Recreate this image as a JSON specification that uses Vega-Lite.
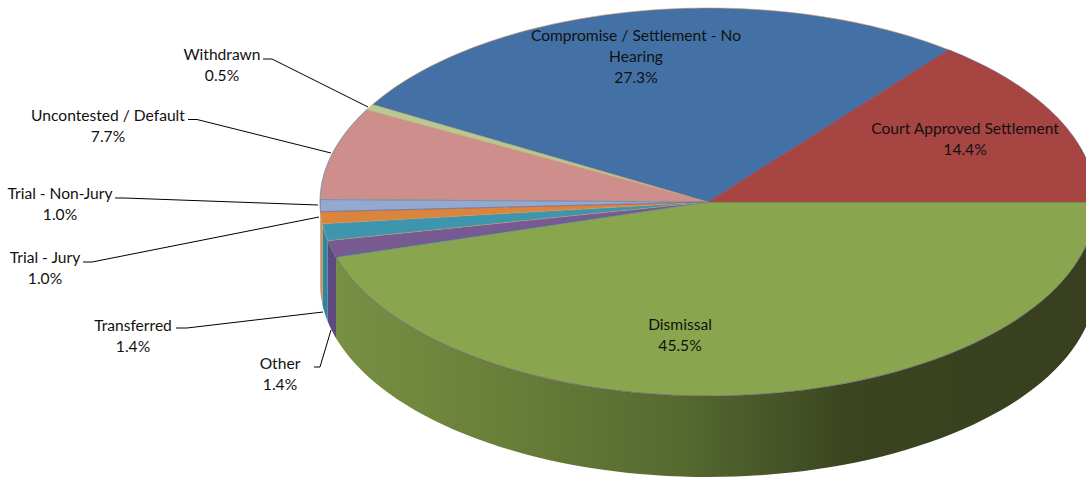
{
"$schema":"https://vega.github.io/schema/vega-lite/v6.json",
"width":1086,"height":478,"padding":0,"autosize":{"type":"none"},"background":"white",
"config":{"view":{"stroke":null}},
"datasets":{
"slices":[
{"ord":1,"name":"Dismissal","pct":45.5},
{"ord":2,"name":"Other","pct":1.4},
{"ord":3,"name":"Transferred","pct":1.4},
{"ord":4,"name":"Trial - Jury","pct":1.0},
{"ord":5,"name":"Trial - Non-Jury","pct":1.0},
{"ord":6,"name":"Uncontested / Default","pct":7.7},
{"ord":7,"name":"Withdrawn","pct":0.5},
{"ord":8,"name":"Compromise / Settlement - No Hearing","pct":27.3},
{"ord":9,"name":"Court Approved Settlement","pct":14.4}],
"labels":[
{"label":"Dismissal\n45.5%","lx":680,"ly":325},
{"label":"Other\n1.4%","lx":280,"ly":364},
{"label":"Transferred\n1.4%","lx":133,"ly":326},
{"label":"Trial - Jury\n1.0%","lx":45,"ly":258},
{"label":"Trial - Non-Jury\n1.0%","lx":60,"ly":194},
{"label":"Uncontested / Default\n7.7%","lx":108,"ly":116},
{"label":"Withdrawn\n0.5%","lx":222,"ly":55},
{"label":"Compromise / Settlement - No\nHearing\n27.3%","lx":636,"ly":36},
{"label":"Court Approved Settlement\n14.4%","lx":965,"ly":129}],
"leaders":[
{"name":"Withdrawn","seq":1,"px":263,"py":59},{"name":"Withdrawn","seq":2,"px":272,"py":59},{"name":"Withdrawn","seq":3,"px":368,"py":107},
{"name":"Uncontested","seq":1,"px":188,"py":119.5},{"name":"Uncontested","seq":2,"px":197,"py":119.5},{"name":"Uncontested","seq":3,"px":331,"py":153},
{"name":"NonJury","seq":1,"px":115,"py":198},{"name":"NonJury","seq":2,"px":124,"py":198},{"name":"NonJury","seq":3,"px":318,"py":205},
{"name":"Jury","seq":1,"px":83,"py":262},{"name":"Jury","seq":2,"px":92,"py":262},{"name":"Jury","seq":3,"px":319,"py":217},
{"name":"Transferred","seq":1,"px":176,"py":328},{"name":"Transferred","seq":2,"px":187,"py":328},{"name":"Transferred","seq":3,"px":323,"py":312},
{"name":"Other","seq":1,"px":314,"py":367},{"name":"Other","seq":2,"px":320,"py":367},{"name":"Other","seq":3,"px":331,"py":330}]
},
"layer":[
{"data":{"name":"slices"},
"transform":[
{"window":[{"op":"sum","field":"pct","as":"cum"}],"sort":[{"field":"ord"}]},
{"joinaggregate":[{"op":"sum","field":"pct","as":"total"}]},
{"filter":"datum.ord==1"},
{"calculate":"sequence(0,81)","as":"step"},{"flatten":["step"]},
{"calculate":"2*PI*(datum.cum-datum.pct+datum.pct*datum.step/80)/datum.total","as":"th"},
{"calculate":"708+388*cos(datum.th)","as":"wx"},
{"calculate":"202+194*sin(datum.th)","as":"wy"},
{"calculate":"datum.wy+81","as":"wy2"}],
"mark":{"type":"area","color":{"gradient":"linear","x1":0,"x2":1,"y1":0,"y2":0,"stops":[{"offset":0,"color":"#779044"},{"offset":0.2,"color":"#6b8039"},{"offset":0.45,"color":"#566a30"},{"offset":0.68,"color":"#3a4420"},{"offset":1,"color":"#373f1e"}]}},
"encoding":{"x":{"field":"wx","type":"quantitative","scale":{"domain":[0,1086]},"axis":null},"y":{"field":"wy","type":"quantitative","scale":{"domain":[478,0]},"axis":null},"y2":{"field":"wy2"}}},
{"data":{"name":"slices"},
"transform":[
{"window":[{"op":"sum","field":"pct","as":"cum"}],"sort":[{"field":"ord"}]},
{"joinaggregate":[{"op":"sum","field":"pct","as":"total"}]},
{"filter":"datum.ord>=2 && datum.ord<=5"},
{"calculate":"sequence(0,9)","as":"step"},{"flatten":["step"]},
{"calculate":"min(PI,2*PI*(datum.cum-datum.pct+datum.pct*datum.step/8)/datum.total)","as":"th"},
{"calculate":"708+388*cos(datum.th)","as":"wx"},
{"calculate":"202+194*sin(datum.th)","as":"wy"},
{"calculate":"datum.wy+81","as":"wy2"}],
"mark":{"type":"area"},
"encoding":{"x":{"field":"wx","type":"quantitative","scale":{"domain":[0,1086]},"axis":null},"y":{"field":"wy","type":"quantitative","scale":{"domain":[478,0]},"axis":null},"y2":{"field":"wy2"},
"detail":{"field":"name"},
"color":{"field":"ord","type":"nominal","legend":null,"scale":{"domain":[2,3,4,5],"range":["#5f4a80","#36829a","#c9905f","#c9905f"]}}}},
{"data":{"name":"slices"},
"transform":[
{"window":[{"op":"sum","field":"pct","as":"cum"}],"sort":[{"field":"ord"}]},
{"joinaggregate":[{"op":"sum","field":"pct","as":"total"}]},
{"calculate":"sequence(0,82)","as":"step"},{"flatten":["step"]},
{"calculate":"2*PI*(datum.cum-datum.pct+datum.pct*(datum.step-1)/80)/datum.total","as":"th"},
{"calculate":"datum.step==0?708:708+388*cos(datum.th)","as":"tx"},
{"calculate":"datum.step==0?202:202+194*sin(datum.th)","as":"ty"}],
"mark":{"type":"line","strokeWidth":0.6,"interpolate":"linear"},
"encoding":{"x":{"field":"tx","type":"quantitative","scale":{"domain":[0,1086]},"axis":null},"y":{"field":"ty","type":"quantitative","scale":{"domain":[478,0]},"axis":null},
"order":{"field":"step","type":"quantitative"},
"detail":{"field":"name"},
"color":{"field":"name","type":"nominal","legend":null,"scale":{"domain":["Dismissal","Other","Transferred","Trial - Jury","Trial - Non-Jury","Uncontested / Default","Withdrawn","Compromise / Settlement - No Hearing","Court Approved Settlement"],"range":["#89a54e","#775a92","#3d96ae","#db843d","#93a9cf","#ce8e8c","#b5ca92","#4371a6","#a74542"]}},
"fill":{"field":"name","type":"nominal","legend":null,"scale":{"domain":["Dismissal","Other","Transferred","Trial - Jury","Trial - Non-Jury","Uncontested / Default","Withdrawn","Compromise / Settlement - No Hearing","Court Approved Settlement"],"range":["#89a54e","#775a92","#3d96ae","#db843d","#93a9cf","#ce8e8c","#b5ca92","#4371a6","#a74542"]}}}},
{"data":{"name":"leaders"},
"mark":{"type":"line","color":"#000000","strokeWidth":1},
"encoding":{"x":{"field":"px","type":"quantitative","scale":{"domain":[0,1086]},"axis":null},"y":{"field":"py","type":"quantitative","scale":{"domain":[478,0]},"axis":null},"order":{"field":"seq","type":"quantitative"},"detail":{"field":"name"}}},
{"data":{"name":"labels"},
"mark":{"type":"text","font":"Lato","fontSize":15.6,"lineBreak":"\n","lineHeight":21,"align":"center","baseline":"middle","color":"#111111"},
"encoding":{"x":{"field":"lx","type":"quantitative","scale":{"domain":[0,1086]},"axis":null},"y":{"field":"ly","type":"quantitative","scale":{"domain":[478,0]},"axis":null},"text":{"field":"label"}}}
]
}
